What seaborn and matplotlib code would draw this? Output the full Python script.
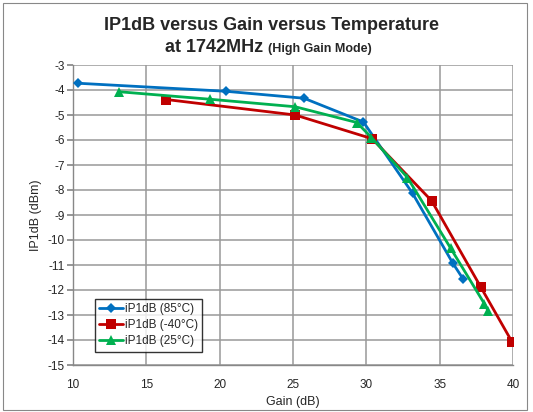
import matplotlib
matplotlib.use("Agg")
import matplotlib.pyplot as plt
import seaborn as sns
import pandas as pd
from matplotlib.patches import Rectangle

sns.set_theme(style="white")
plt.rcParams['font.family'] = ['Liberation Sans', 'DejaVu Sans']
plt.rcParams['axes.unicode_minus'] = False

gain_85 = [10.35, 20.4, 25.75, 29.8, 33.15, 35.9, 36.6]
ip1_85 = [-3.73, -4.05, -4.33, -5.28, -8.13, -10.93, -11.56]

gain_m40 = [16.35, 25.15, 30.4, 34.45, 37.8, 39.93]
ip1_m40 = [-4.38, -5.0, -5.95, -8.43, -11.88, -14.07]

gain_25 = [13.15, 19.35, 25.15, 29.35, 30.35, 32.8, 35.75, 38.05, 38.3]
ip1_25 = [-4.07, -4.37, -4.67, -5.3, -5.9, -7.5, -10.33, -12.55, -12.83]

labels = ["iP1dB (85°C)", "iP1dB (-40°C)", "iP1dB (25°C)"]
colors = ["#0070C0", "#C00000", "#00B050"]
markers = ["D", "s", "^"]
msizes = [5, 7, 7]

x_ticks = [10, 15, 20, 25, 30, 35, 40]
y_ticks = list(range(-15, -2))

fig = plt.figure(figsize=(5.33, 4.12), dpi=100)
ax = fig.add_axes([73/533, 1-365/412, 440/533, 300/412])

series = [(gain_85, ip1_85), (gain_m40, ip1_m40), (gain_25, ip1_25)]
for (gx, gy), lab, c, m, ms in zip(series, labels, colors, markers, msizes):
    df = pd.DataFrame({"Gain": gx, "IP1dB": gy})
    sns.lineplot(data=df, x="Gain", y="IP1dB", ax=ax, sort=False, estimator=None,
                 color=c, marker=m, markersize=ms, markeredgewidth=0,
                 linewidth=2.0, label=lab, zorder=3)

ax.set_xlim(10, 40)
ax.set_ylim(-15, -3)
ax.set_xticks(x_ticks)
ax.set_yticks(y_ticks)
ax.grid(True, color="#999999", linewidth=1.1, zorder=0)
ax.set_axisbelow(True)
for s in ["top", "right"]:
    ax.spines[s].set_visible(False)
for s in ["left", "bottom"]:
    ax.spines[s].set_color("#888888")
    ax.spines[s].set_linewidth(1.0)
ax.tick_params(axis="y", which="both", left=True, length=4, color="#888888",
               labelsize=8.5, pad=2)
ax.tick_params(axis="x", which="both", bottom=False, labelsize=8.5, pad=4)
ax.set_xlabel("Gain (dB)", fontsize=9, labelpad=4)
ax.set_ylabel("IP1dB (dBm)", fontsize=9, labelpad=4)

leg = ax.legend(loc="lower left", bbox_to_anchor=(0.05, 0.045), fontsize=8.5,
                frameon=True, fancybox=False, edgecolor="black",
                borderpad=0.35, labelspacing=0.35, handlelength=2.0,
                handletextpad=0.15, borderaxespad=0)
leg.get_frame().set_linewidth(1.0)

fig.text(271/533, 1-26/412, "IP1dB versus Gain versus Temperature",
         ha="center", va="center", fontsize=13, fontweight="bold")
fig.text(263/533, 1-48/412, "at 1742MHz", ha="right", va="center",
         fontsize=13, fontweight="bold")
fig.text(268/533, 1-49/412, "(High Gain Mode)", ha="left", va="center",
         fontsize=9, fontweight="bold")

fig.patches.append(Rectangle((3/533, 2/412), 524/533, 407/412,
                             transform=fig.transFigure, fill=False,
                             edgecolor="#888888", linewidth=0.8))

fig.savefig("out.png", dpi=100)
